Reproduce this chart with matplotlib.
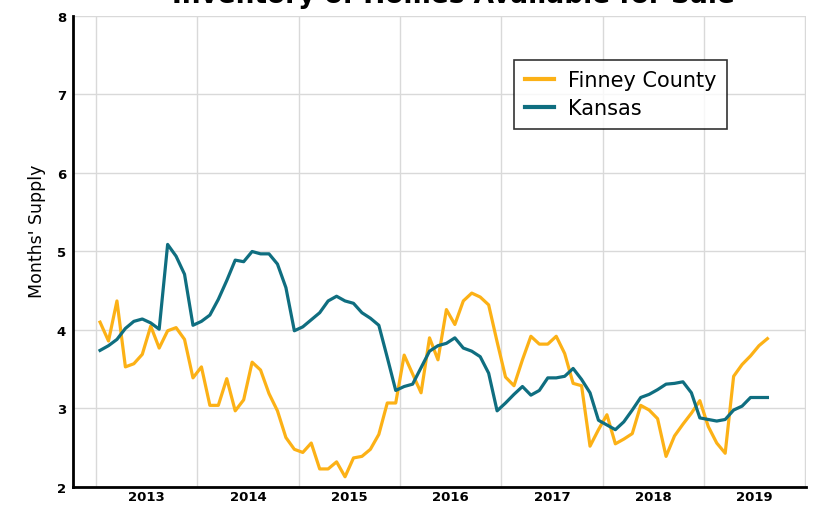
import numpy as np
import matplotlib
matplotlib.use("Agg")
import matplotlib.pyplot as plt
from matplotlib.ticker import FixedLocator, NullFormatter, FixedFormatter

# Monthly values, Jan 2013 - Aug 2019
finney = [4.10, 3.86, 4.37, 3.53, 3.57, 3.69, 4.05, 3.77, 3.99, 4.03, 3.88, 3.39,
          3.53, 3.04, 3.04, 3.38, 2.97, 3.11, 3.59, 3.49, 3.19, 2.97, 2.63, 2.48,
          2.44, 2.56, 2.23, 2.23, 2.32, 2.13, 2.37, 2.39, 2.48, 2.67, 3.07, 3.07,
          3.68, 3.44, 3.20, 3.90, 3.62, 4.26, 4.07, 4.37, 4.47, 4.42, 4.32, 3.85,
          3.40, 3.29, 3.62, 3.92, 3.82, 3.82, 3.92, 3.70, 3.32, 3.29, 2.52, 2.73,
          2.92, 2.55, 2.61, 2.68, 3.04, 2.98, 2.87, 2.39, 2.65, 2.80, 2.94, 3.10,
          2.77, 2.56, 2.43, 3.41, 3.56, 3.67, 3.80, 3.89]
kansas = [3.74, 3.80, 3.88, 4.02, 4.11, 4.14, 4.09, 4.01, 5.09, 4.94, 4.71, 4.06,
          4.11, 4.19, 4.39, 4.63, 4.89, 4.87, 5.00, 4.97, 4.97, 4.84, 4.54, 3.99,
          4.04, 4.13, 4.22, 4.37, 4.43, 4.37, 4.34, 4.22, 4.15, 4.06, 3.65, 3.23,
          3.28, 3.31, 3.52, 3.73, 3.80, 3.83, 3.90, 3.77, 3.73, 3.66, 3.45, 2.97,
          3.07, 3.18, 3.28, 3.17, 3.23, 3.39, 3.39, 3.41, 3.51, 3.37, 3.20, 2.85,
          2.79, 2.73, 2.83, 2.98, 3.14, 3.18, 3.24, 3.31, 3.32, 3.34, 3.20, 2.88,
          2.86, 2.84, 2.86, 2.98, 3.03, 3.14, 3.14, 3.14]
years = ["2013", "2014", "2015", "2016", "2017", "2018", "2019"]

# months since Jan 2013, points at mid-month
x = np.arange(len(finney)) + 0.5

plt.rcParams['font.family'] = ['DejaVu Sans']

fig = plt.figure(figsize=(8.14, 5.06), dpi=100)
ax = fig.add_axes([0.0897, 0.0356, 0.9003, 0.9308])

ax.plot(x, finney, color='#fcb116', lw=2.3, label='Finney County', zorder=3)
ax.plot(x, kansas, color='#0f6e80', lw=2.3, label='Kansas', zorder=3)

ax.set_xlim(-2.7, 84.05)
ax.set_ylim(2, 8)

# gridlines on year boundaries, year labels in the middle
ax.xaxis.set_major_locator(FixedLocator(np.arange(0, 85, 12)))
ax.xaxis.set_major_formatter(NullFormatter())
ax.xaxis.set_minor_locator(FixedLocator(np.arange(6, 84, 12)))
ax.xaxis.set_minor_formatter(FixedFormatter(years))
ax.set_yticks(range(2, 9))

ax.grid(True, which='major', color='#d9d9d9', lw=1)
ax.set_axisbelow(True)
ax.tick_params(which='both', length=0)
ax.tick_params(axis='x', which='minor', pad=2, labelsize=9.5)
ax.tick_params(axis='y', pad=5, labelsize=9.5)
for lab in ax.get_xticklabels(minor=True) + ax.get_yticklabels():
    lab.set_fontweight('bold')

for s in ['top', 'right']:
    ax.spines[s].set_visible(False)
for s in ['left', 'bottom']:
    ax.spines[s].set_linewidth(2)
    ax.spines[s].set_color('black')

ax.set_ylabel("Months' Supply", fontsize=12.5)
ax.yaxis.set_label_coords(-0.037, 0.546)

leg = ax.legend(loc='upper left', bbox_to_anchor=(0.602, 0.907), fontsize=15,
                frameon=True, fancybox=False, edgecolor='black',
                handlelength=1.4, handletextpad=0.7, borderpad=0.5,
                labelspacing=0.38, borderaxespad=0)
leg.get_frame().set_linewidth(1.2)
for h in leg.get_lines():
    h.set_linewidth(3)

fig.text(0.557, 1 - 3 / 506, "Inventory of Homes Available for Sale",
         ha='center', va='baseline', fontsize=19, fontweight='bold')

fig.savefig("out.png", dpi=100)
